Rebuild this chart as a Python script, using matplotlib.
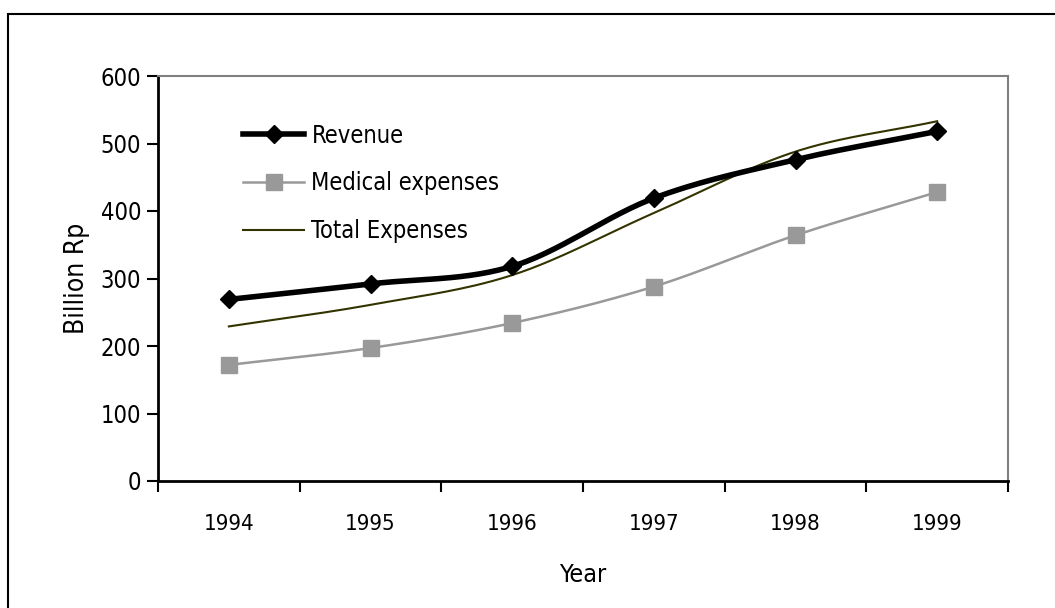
import numpy as np
import matplotlib.pyplot as plt
from matplotlib.patches import Rectangle
from matplotlib.lines import Line2D

years = ['1994', '1995', '1996', '1997', '1998', '1999']
revenue = [269, 292, 318, 419, 476, 518]
medical = [172, 197, 234, 288, 364, 428]
total = [229, 261, 305, 397, 488, 533]

plt.rcParams['font.family'] = ['DejaVu Sans']
plt.rcParams['font.stretch'] = 'condensed'
plt.rcParams['font.weight'] = 'light'


def smooth(y, n=30):
    # Catmull-Rom curve through the points, like Excel's smoothed lines
    y = np.asarray(y, dtype=float)
    x = np.arange(len(y), dtype=float)
    px = np.concatenate([[2 * x[0] - x[1]], x, [2 * x[-1] - x[-2]]])
    py = np.concatenate([[2 * y[0] - y[1]], y, [2 * y[-1] - y[-2]]])
    xs, ys = [], []
    t = np.linspace(0, 1, n, endpoint=False)
    for i in range(1, len(px) - 2):
        for p, out in ((px, xs), (py, ys)):
            p0, p1, p2, p3 = p[i - 1], p[i], p[i + 1], p[i + 2]
            out.extend(0.5 * (2 * p1 + (-p0 + p2) * t
                              + (2 * p0 - 5 * p1 + 4 * p2 - p3) * t ** 2
                              + (-p0 + 3 * p1 - 3 * p2 + p3) * t ** 3))
    xs.append(x[-1])
    ys.append(y[-1])
    return np.array(xs), np.array(ys)


fig = plt.figure(figsize=(10.55, 6.08), dpi=100)
fig.patches.append(Rectangle((8 / 1055, -0.1), 1.2, 1.1 - 14 / 608,
                             transform=fig.transFigure, fill=False,
                             edgecolor='black', linewidth=1.5))
ax = fig.add_axes([158 / 1055, 1 - 481 / 608, 850 / 1055, 405 / 608])

x = np.arange(len(years))

sx, sy = smooth(total)
ax.plot(sx, sy, color='#333300', linewidth=1.5, zorder=2)

sx, sy = smooth(medical)
ax.plot(sx, sy, color='#999999', linewidth=1.8, zorder=3)
ax.plot(x, medical, linestyle='none', marker='s', markersize=11,
        color='#999999', zorder=3)

sx, sy = smooth(revenue)
ax.plot(sx, sy, color='black', linewidth=4, zorder=4)
ax.plot(x, revenue, linestyle='none', marker='D', markersize=9,
        color='black', zorder=4)

ax.set_xlim(-0.5, len(years) - 0.5)
ax.set_ylim(0, 600)
ax.set_yticks(range(0, 601, 100))
ax.set_xticks(x)
ax.set_xticklabels(years)
ax.set_xticks(np.arange(-0.5, len(years)), minor=True)
ax.tick_params(axis='x', which='major', length=0, pad=24, labelsize=16)
ax.tick_params(axis='x', which='minor', length=8, width=1.5, direction='out')
ax.tick_params(axis='y', length=8, width=1.5, direction='out', pad=4,
               labelsize=17)

for side in ('left', 'bottom'):
    ax.spines[side].set_linewidth(2)
    ax.spines[side].set_color('black')
for side in ('top', 'right'):
    ax.spines[side].set_linewidth(1.5)
    ax.spines[side].set_color('#808080')

ax.set_xlabel('Year', fontsize=18, labelpad=21)
ax.set_ylabel('Billion Rp', fontsize=19, labelpad=8)

handles = [
    Line2D([], [], color='black', linewidth=4, marker='D', markersize=9),
    Line2D([], [], color='#999999', linewidth=1.8, marker='s', markersize=11),
    Line2D([], [], color='#333300', linewidth=1.5),
]
ax.legend(handles, ['Revenue', 'Medical expenses', 'Total Expenses'],
          loc='upper left', bbox_to_anchor=(0.075, 0.935), frameon=False,
          fontsize=17, handlelength=2.6, handletextpad=0.3, labelspacing=1.0)

fig.savefig('out.png', dpi=100)
